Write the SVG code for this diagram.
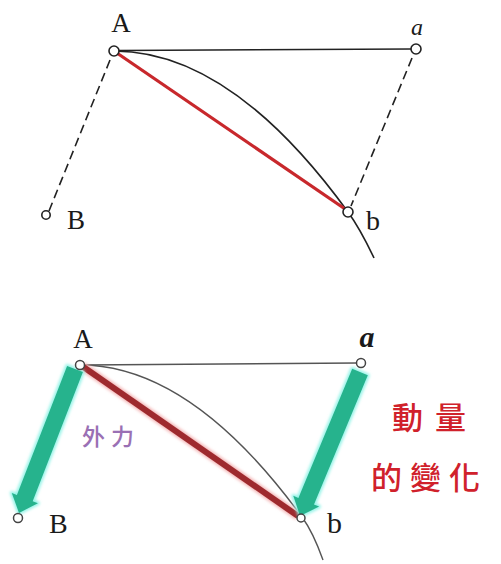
<svg xmlns="http://www.w3.org/2000/svg" width="501" height="564" viewBox="0 0 501 564">
<style>
.lbl{font-family:"Liberation Serif","DejaVu Serif",serif;fill:#1a1a1a}
.cjk{font-family:"Noto Sans CJK TC","Noto Sans CJK SC",sans-serif}
.pt{fill:#fff;stroke:#222;stroke-width:1.6}
.pt2{fill:#fff;stroke:#444;stroke-width:1.5}
.dash{fill:none;stroke:#222;stroke-width:1.6;stroke-dasharray:9 5}
.curve{fill:none;stroke:#222;stroke-width:1.6}
.curve2{fill:none;stroke:#555;stroke-width:1.4}
.arrow{fill:#26b38d}
.glow{fill:none;stroke:#8ef3e6;stroke-width:3.5;stroke-linejoin:round}
</style>
<defs>
<filter id="blur" x="-20%" y="-20%" width="140%" height="140%"><feGaussianBlur stdDeviation="1.5"/></filter>
</defs>
<rect width="501" height="564" fill="#fff"/>

<g id="connectors">
  <!-- top diagram -->
  <line x1="118" y1="50.5" x2="411" y2="49" stroke="#222" stroke-width="1.6"/>
  <path class="curve" d="M114,51 Q231,51 348,212 Q360,228.5 374,258"/>
  <line x1="114" y1="51" x2="348" y2="211" stroke="#c8282c" stroke-width="3.2"/>
  <line class="dash" x1="110" y1="60" x2="49" y2="211"/>
  <line class="dash" x1="412" y1="58" x2="351" y2="206"/>
  <!-- bottom diagram -->
  <line x1="84" y1="365" x2="357" y2="363" stroke="#555" stroke-width="1.6"/>
  <path class="curve2" d="M80,365 Q191,365 302,517 Q313,532 323,560"/>
  <line x1="82" y1="366" x2="298" y2="516" stroke="#f4b8b8" stroke-width="9" filter="url(#blur)"/>
  <line x1="82" y1="366" x2="298" y2="516" stroke="#9e2a2e" stroke-width="6"/>
  <g id="arrow-left">
    <polygon class="glow" filter="url(#blur)" points="82.9,372.1 32.7,501.2 37.9,503.2 19,513 11.8,493 16.9,495 67.1,365.9"/>
    <polygon class="arrow" points="82.9,372.1 32.7,501.2 37.9,503.2 19,513 11.8,493 16.9,495 67.1,365.9"/>
  </g>
  <g id="arrow-right">
    <polygon class="glow" filter="url(#blur)" points="367.8,375.3 314,504.5 319.1,506.6 300,516 293.3,495.8 298.4,497.9 352.2,368.7"/>
    <polygon class="arrow" points="367.8,375.3 314,504.5 319.1,506.6 300,516 293.3,495.8 298.4,497.9 352.2,368.7"/>
  </g>
</g>

<!-- top nodes -->
<g id="top-A"><circle class="pt" cx="114" cy="51" r="5"/><text class="lbl" x="121" y="32" font-size="27" text-anchor="middle">A</text></g>
<g id="top-a"><circle class="pt" cx="416" cy="49" r="5"/><text class="lbl" x="417" y="35" font-size="24" font-style="italic" text-anchor="middle">a</text></g>
<g id="top-B"><circle class="pt" cx="46" cy="215" r="4.2"/><text class="lbl" x="67" y="229" font-size="27">B</text></g>
<g id="top-b"><circle class="pt" cx="348" cy="212" r="5"/><text class="lbl" x="366" y="230" font-size="28">b</text></g>

<!-- bottom nodes -->
<g id="bot-A"><circle class="pt2" cx="80" cy="365" r="4.5"/><text class="lbl" x="83" y="348" font-size="27" text-anchor="middle">A</text></g>
<g id="bot-a"><circle class="pt2" cx="361" cy="363" r="4.5"/><text class="lbl" x="367" y="347" font-size="30" font-weight="bold" font-style="italic" text-anchor="middle">a</text></g>
<g id="bot-B"><circle class="pt2" cx="18" cy="518" r="4.5"/><text class="lbl" x="49" y="533" font-size="28">B</text></g>
<g id="bot-b"><circle class="pt2" cx="301" cy="518" r="4"/><text class="lbl" x="327" y="533" font-size="30">b</text></g>

<g id="labels">
  <text class="cjk" x="82" y="445" font-size="23" font-weight="500" fill="#9a70b4" letter-spacing="6">外力</text>
  <text class="cjk" x="392" y="429" font-size="31" font-weight="500" fill="#d0212b" letter-spacing="12">動量</text>
  <text class="cjk" x="371" y="489" font-size="31" font-weight="500" fill="#d0212b" letter-spacing="8">的變化</text>
</g>
</svg>
